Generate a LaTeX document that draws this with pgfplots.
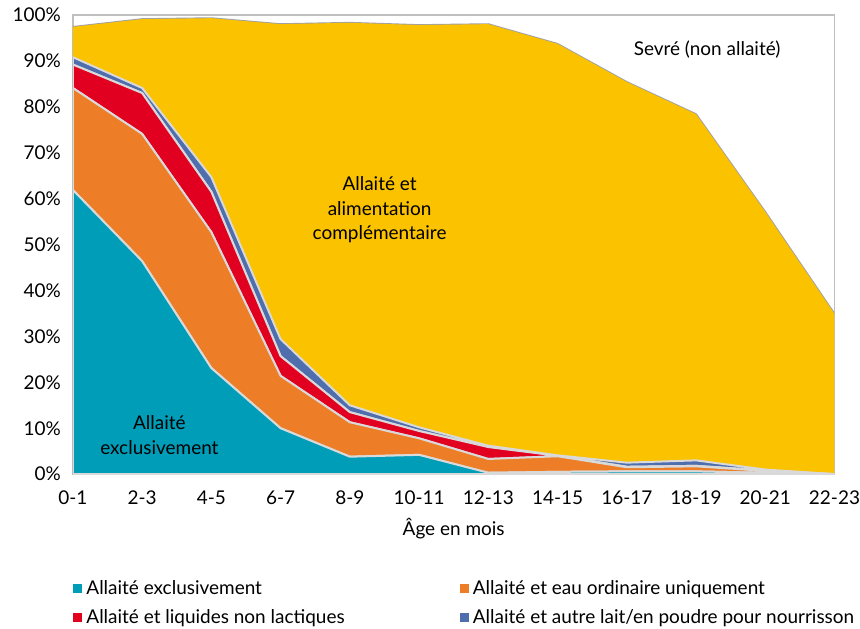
\documentclass[border=0pt]{standalone}
\usepackage{fontspec}
\setmainfont{Lato}
\usepackage{pgfplots}
\pgfplotsset{compat=1.18}

\definecolor{cExcl}{RGB}{0,157,185}
\definecolor{cEau}{RGB}{237,125,38}
\definecolor{cLiq}{RGB}{226,0,33}
\definecolor{cLait}{RGB}{79,110,174}
\definecolor{cComp}{RGB}{251,194,0}
\definecolor{sepgray}{RGB}{217,217,217}
\definecolor{topgray}{RGB}{160,160,165}
\definecolor{framegray}{RGB}{191,191,191}

% layer thickness in %, x = age class index (0 = 0-1 ... 11 = 22-23)
\pgfplotstableread{
x  excl eau  liq  lait comp
0  61.9 22.2 5.1  1.6  6.6
1  46.4 27.7 8.9  1.1  15.0
2  23.1 29.6 8.8  3.2  34.6
3  10.0 11.4 4.3  3.7  68.6
4  3.8  7.5  2.2  1.5  83.3
5  4.2  3.6  1.6  0.8  87.6
6  0.3  3.0  2.6  0.3  91.8
7  0.5  3.4  0.1  0.1  89.6
8  0.6  0.9  0.1  0.9  82.9
9  0.6  1.1  0.1  1.2  75.4
10 0.3  0.4  0.1  0.2  56.1
11 0.0  0.0  0.0  0.0  34.9
}\data

\begin{document}
\begin{tikzpicture}[font=\fontsize{9.5}{11}\selectfont]
\begin{axis}[
  scale only axis,
  width=381.5pt, height=230pt,
  xmin=0, xmax=11, ymin=0, ymax=100,
  xtick={0,...,11},
  xticklabels={0-1,2-3,4-5,6-7,8-9,10-11,12-13,14-15,16-17,18-19,20-21,22-23},
  ytick={0,10,...,100},
  yticklabels={0\%,10\%,20\%,30\%,40\%,50\%,60\%,70\%,80\%,90\%,100\%},
  major tick length=0pt,
  axis line style={draw=framegray, line width=0.8pt},
  xticklabel style={yshift=-5pt, inner xsep=0pt},
  yticklabel style={xshift=-2.5pt},
  xlabel={Âge en mois},
  xlabel style={at={(axis description cs:0.5,0)}, anchor=center, yshift=-27.5pt},
  stack plots=y,
  legend columns=2,
  legend cell align=left,
  legend style={at={(0,-0.226)}, anchor=north west, draw=none,
    inner xsep=0pt, inner ysep=0pt, row sep=4pt,
    nodes={inner ysep=1pt},
    font=\fontsize{9.5}{11}\selectfont},
  legend image code/.code={\fill[#1, draw=none] (0pt,-2.3pt) rectangle (4.6pt,2.3pt);},
]
\addplot[fill=cExcl, draw=sepgray, line width=1pt] table[x=x, y=excl] {\data} \closedcycle;
\addlegendentry{\makebox[185pt][l]{Allaité exclusivement}}
\addplot[fill=cEau, draw=sepgray, line width=1pt] table[x=x, y=eau] {\data} \closedcycle;
\addlegendentry{Allaité et eau ordinaire uniquement}
\addplot[fill=cLiq, draw=sepgray, line width=1pt] table[x=x, y=liq] {\data} \closedcycle;
\addlegendentry{\makebox[185pt][l]{Allaité et liquides non lactiques}}
\addplot[fill=cLait, draw=sepgray, line width=1pt] table[x=x, y=lait] {\data} \closedcycle;
\addlegendentry{Allaité et autre lait/en poudre pour nourrisson}
\addplot[fill=cComp, draw=none, forget plot] table[x=x, y=comp] {\data} \closedcycle;
% zero-thickness layer: draws the outline of the total
\addplot[draw=topgray, line width=0.9pt, forget plot] coordinates {
 (0,0) (1,0) (2,0) (3,0) (4,0) (5,0) (6,0) (7,0) (8,0) (9,0) (10,0) (11,0)};

\coordinate (lExcl) at (axis cs:1.25,8.6);
\coordinate (lComp) at (axis cs:4.43,57.6);
\coordinate (lSevre) at (axis cs:9.16,92.4);
\end{axis}
\node[align=center, font=\fontsize{9.5}{12.5}\selectfont] at (lExcl) {Allaité\\exclusivement};
\node[align=center, font=\fontsize{9.5}{12.5}\selectfont] at (lComp) {Allaité et\\alimentation\\complémentaire};
\node at (lSevre) {Sevré (non allaité)};
\path ([shift={(-36.5pt,-77.5pt)}]current axis.south west)
  rectangle ([shift={(12pt,7.5pt)}]current axis.north east);
\end{tikzpicture}
\end{document}
